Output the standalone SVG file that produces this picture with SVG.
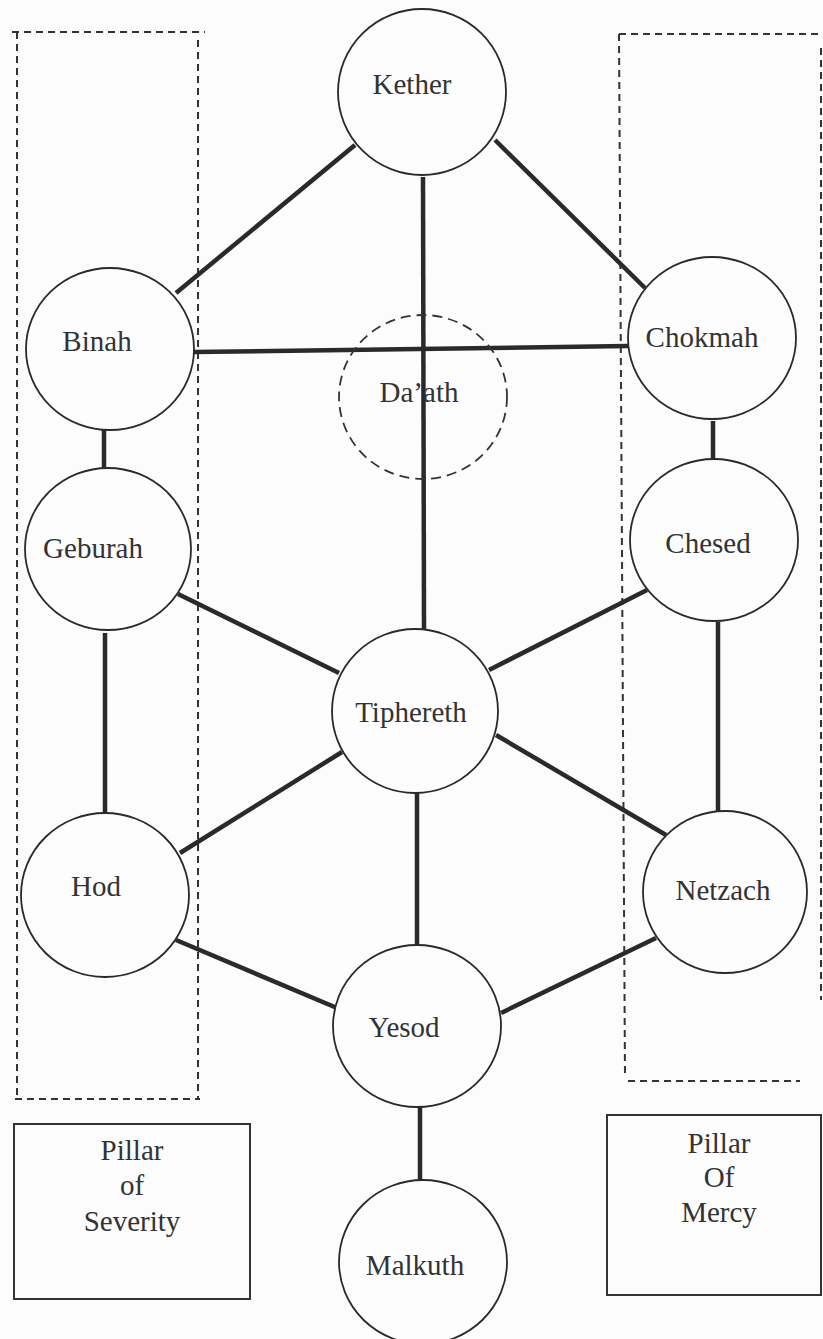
<svg xmlns="http://www.w3.org/2000/svg" width="823" height="1339" viewBox="0 0 823 1339">
<style>
.bg{fill:#fcfcfc}
.node{fill:#fdfdfd;stroke:#2a2a2a;stroke-width:1.8}
.dnode{fill:none;stroke:#333;stroke-width:1.8;stroke-dasharray:10 6}
.lbl{font-family:"Liberation Serif","Times New Roman",serif;font-size:29px;fill:#333;text-anchor:middle}
.conn{stroke:#2a2a2a;stroke-width:4.5;stroke-linecap:butt;fill:none}
.pillar{fill:none;stroke:#333;stroke-width:2;stroke-dasharray:7 5}
.box{fill:none;stroke:#333;stroke-width:2}
</style>
<rect class="bg" x="0" y="0" width="823" height="1339"/>
<g id="pillar-severity-outline">
<path class="pillar" d="M12,32 L205,32 M17,32 L17,1099 M198,40 L198,1099 M15,1099 L200,1099"/>
</g>
<g id="pillar-mercy-outline">
<path class="pillar" d="M619,34 L823,34 M619,34 L625,1077 M821,48 L821,1000 M628,1081 L800,1081"/>
</g>
<g id="connectors">
<line class="conn" x1="355" y1="145" x2="176" y2="293"/>
<line class="conn" x1="495" y1="140" x2="645" y2="288"/>
<line class="conn" x1="423" y1="177" x2="424" y2="629"/>
<line class="conn" x1="194" y1="352" x2="628" y2="346"/>
<line class="conn" x1="104" y1="430" x2="104" y2="468"/>
<line class="conn" x1="713" y1="421" x2="713" y2="459"/>
<line class="conn" x1="178" y1="594" x2="339" y2="673"/>
<line class="conn" x1="647" y1="590" x2="489" y2="670"/>
<line class="conn" x1="105" y1="633" x2="105" y2="813"/>
<line class="conn" x1="718" y1="622" x2="718" y2="811"/>
<line class="conn" x1="342" y1="752" x2="180" y2="853"/>
<line class="conn" x1="496" y1="735" x2="666" y2="835"/>
<line class="conn" x1="417" y1="793" x2="417" y2="945"/>
<line class="conn" x1="176" y1="940" x2="337" y2="1008"/>
<line class="conn" x1="656" y1="938" x2="501" y2="1013"/>
<line class="conn" x1="420" y1="1107" x2="420" y2="1180"/>
</g>
<g id="kether"><ellipse class="node" cx="422" cy="92" rx="84" ry="83"/><text class="lbl" x="412" y="94">Kether</text></g>
<g id="binah"><ellipse class="node" cx="110" cy="349" rx="84" ry="81"/><text class="lbl" x="97" y="351">Binah</text></g>
<g id="chokmah"><ellipse class="node" cx="712" cy="338" rx="84" ry="81"/><text class="lbl" x="702" y="347">Chokmah</text></g>
<g id="daath"><ellipse class="dnode" cx="423" cy="397" rx="84" ry="82"/><text class="lbl" x="419" y="402">Da’ath</text></g>
<g id="geburah"><ellipse class="node" cx="108" cy="549" rx="83" ry="81"/><text class="lbl" x="93" y="558">Geburah</text></g>
<g id="chesed"><ellipse class="node" cx="714" cy="540" rx="84" ry="81"/><text class="lbl" x="708" y="553">Chesed</text></g>
<g id="tiphereth"><ellipse class="node" cx="415" cy="711" rx="83" ry="82"/><text class="lbl" x="411" y="722">Tiphereth</text></g>
<g id="hod"><ellipse class="node" cx="105" cy="895" rx="84" ry="82"/><text class="lbl" x="96" y="896">Hod</text></g>
<g id="netzach"><ellipse class="node" cx="725" cy="892" rx="82" ry="81"/><text class="lbl" x="723" y="900">Netzach</text></g>
<g id="yesod"><ellipse class="node" cx="417" cy="1026" rx="84" ry="81"/><text class="lbl" x="404" y="1037">Yesod</text></g>
<g id="malkuth"><ellipse class="node" cx="423" cy="1262" rx="84" ry="82"/><text class="lbl" x="415" y="1275">Malkuth</text></g>
<g id="label-severity"><rect class="box" x="14" y="1124" width="236" height="175"/>
<text class="lbl" x="132" y="1160">Pillar</text><text class="lbl" x="132" y="1195">of</text><text class="lbl" x="132" y="1231">Severity</text></g>
<g id="label-mercy"><rect class="box" x="607" y="1115" width="214" height="180"/>
<text class="lbl" x="719" y="1153">Pillar</text><text class="lbl" x="719" y="1187">Of</text><text class="lbl" x="719" y="1222">Mercy</text></g>
</svg>
